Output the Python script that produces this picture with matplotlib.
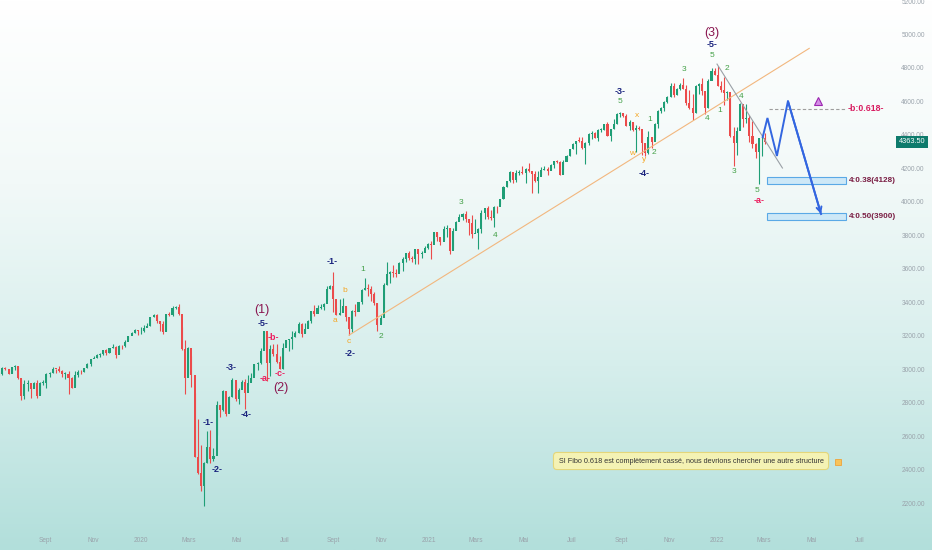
import matplotlib
matplotlib.use("Agg")
import matplotlib.pyplot as plt
import matplotlib.dates as mdates
from matplotlib import font_manager
from matplotlib.colors import LinearSegmentedColormap
from matplotlib.patches import Rectangle
import numpy as np
import pandas as pd

installed = {f.name for f in font_manager.fontManager.ttflist}
FONT = 'Liberation Sans Narrow' if 'Liberation Sans Narrow' in installed else 'Liberation Sans'
plt.rcParams['font.family'] = [FONT, 'DejaVu Sans']
NARROW = FONT == 'Liberation Sans Narrow'

# ---- S&P 500, 4-day candles from 2019-07-05 (close, high, low) ----
first_open = 2990
closes = [
    2976, 3014, 3004, 2977, 3019, 3025, 2953,
    2844, 2918, 2926, 2889, 2924, 2847, 2924, 2926,
    2979, 2980, 3007, 3006, 2992, 2977, 2977,
    2952, 2893, 2970, 2990, 2986, 3010, 3039, 3067,
    3075, 3093, 3094, 3120, 3103, 3134, 3141, 3093,
    3146, 3142, 3169, 3205, 3224, 3240, 3231,
    # 2020
    3235, 3253, 3265, 3317, 3330, 3295, 3276, 3226,
    3334, 3328, 3374, 3380, 3338, 3128, 2954,
    3130, 2972, 2481, 2386, 2305, 2447, 2541, 2470,
    2489, 2790, 2762, 2875, 2737, 2837, 2939, 2830,
    2881, 2930, 2863, 2922, 2955, 3036, 3044,
    3112, 3232, 3041, 3124, 3098, 3050, 3009, 3130,
    3179, 3185, 3197, 3224, 3276, 3216, 3246, 3295,
    3351, 3333, 3373, 3375, 3397, 3484, 3500,
    3427, 3331, 3341, 3385, 3319, 3246, 3351, 3348,
    3408, 3477, 3489, 3484, 3453, 3401, 3270, 3310,
    3509, 3572, 3585, 3582, 3577, 3638, 3662,
    3699, 3672, 3663, 3722, 3694, 3703, 3727, 3756,
    # 2021
    3748, 3824, 3795, 3768, 3841, 3850, 3714, 3830,
    3886, 3916, 3934, 3906, 3881, 3811, 3819,
    3842, 3939, 3968, 3913, 3910, 3974, 3973,
    4020, 4097, 4128, 4185, 4135, 4180, 4183, 4181,
    4201, 4189, 4174, 4128, 4156, 4196, 4204, 4192,
    4226, 4247, 4246, 4166, 4241, 4281, 4320,
    4352, 4370, 4369, 4327, 4359, 4411, 4419, 4387,
    4436, 4436, 4468, 4400, 4441, 4470, 4529, 4535,
    4520, 4458, 4480, 4433, 4448, 4443, 4357,
    4300, 4391, 4364, 4471, 4549, 4567, 4605, 4631,
    4697, 4646, 4683, 4705, 4682, 4595, 4567,
    4538, 4701, 4712, 4669, 4568, 4725, 4786, 4766,
    # 2022
    4700, 4677, 4659, 4662, 4398, 4357, 4432, 4589,
    4500, 4504, 4401, 4349, 4305, 4385, 4386, 4363.5,
]
highs = [
    2995, 3017, 3018, 3006, 3020, 3028, 3027,
    2945, 2940, 2944, 2905, 2932, 2939, 2930, 2941,
    2985, 2989, 3021, 3008, 3022, 3000, 2987,
    2993, 2959, 2993, 3003, 3000, 3013, 3044, 3068,
    3084, 3097, 3102, 3121, 3127, 3134, 3154, 3144,
    3150, 3148, 3183, 3206, 3228, 3248, 3240,
    3258, 3268, 3282, 3317, 3337, 3337, 3285, 3293,
    3337, 3347, 3385, 3381, 3393, 3259, 3182,
    3136, 3083, 2863, 2711, 2553, 2449, 2637, 2641,
    2533, 2818, 2782, 2880, 2844, 2844, 2954, 2930,
    2891, 2944, 2945, 2968, 2980, 3036, 3049,
    3130, 3233, 3223, 3153, 3155, 3154, 3086, 3165,
    3183, 3186, 3236, 3233, 3287, 3280, 3279, 3302,
    3352, 3387, 3387, 3395, 3399, 3501, 3509,
    3588, 3379, 3425, 3429, 3376, 3320, 3361, 3397,
    3409, 3482, 3550, 3515, 3502, 3466, 3399, 3330,
    3521, 3646, 3593, 3628, 3603, 3645, 3679,
    3700, 3712, 3685, 3725, 3726, 3712, 3740, 3760,
    3770, 3826, 3823, 3788, 3861, 3870, 3836, 3847,
    3894, 3931, 3938, 3950, 3902, 3928, 3906,
    3852, 3960, 3969, 3983, 3956, 3978, 3981,
    4020, 4098, 4130, 4191, 4180, 4194, 4194, 4218,
    4209, 4238, 4178, 4191, 4188, 4213, 4219, 4216,
    4233, 4249, 4258, 4252, 4256, 4286, 4321,
    4355, 4372, 4393, 4393, 4364, 4415, 4430, 4422,
    4440, 4445, 4468, 4480, 4444, 4502, 4537, 4545,
    4536, 4529, 4492, 4485, 4466, 4457, 4419,
    4355, 4429, 4392, 4475, 4552, 4572, 4608, 4636,
    4718, 4714, 4688, 4715, 4743, 4702, 4672,
    4652, 4705, 4713, 4744, 4642, 4740, 4807, 4808,
    4818, 4726, 4749, 4666, 4632, 4453, 4453, 4595,
    4540, 4590, 4527, 4490, 4356, 4385, 4402, 4416,
]
lows = [
    2966, 2970, 2998, 2975, 2980, 3000, 2945,
    2822, 2825, 2873, 2834, 2891, 2834, 2856, 2913,
    2891, 2957, 2985, 2985, 2990, 2957, 2945,
    2855, 2892, 2907, 2960, 2979, 2991, 3013, 3023,
    3070, 3071, 3077, 3090, 3091, 3104, 3134, 3070,
    3095, 3124, 3138, 3183, 3216, 3223, 3212,
    3214, 3225, 3255, 3264, 3316, 3281, 3234, 3214,
    3235, 3323, 3324, 3367, 3328, 3118, 2855,
    2976, 2901, 2478, 2380, 2280, 2191, 2446, 2444,
    2455, 2615, 2721, 2758, 2727, 2751, 2842, 2817,
    2797, 2905, 2766, 2914, 2933, 2969, 3003,
    3038, 3128, 2936, 2966, 3083, 3040, 3008, 3007,
    3155, 3116, 3127, 3196, 3224, 3200, 3221, 3250,
    3281, 3324, 3355, 3363, 3362, 3419, 3484,
    3349, 3329, 3329, 3384, 3292, 3209, 3228, 3324,
    3367, 3398, 3481, 3441, 3415, 3387, 3233, 3279,
    3370, 3511, 3519, 3556, 3554, 3594, 3594,
    3645, 3660, 3646, 3633, 3636, 3673, 3720, 3726,
    3663, 3784, 3772, 3749, 3777, 3795, 3694, 3726,
    3836, 3895, 3900, 3885, 3805, 3789, 3818,
    3723, 3821, 3906, 3904, 3900, 3853, 3939,
    3992, 4020, 4094, 4125, 4118, 4127, 4169, 4174,
    4118, 4186, 4056, 4125, 4061, 4165, 4194, 4167,
    4197, 4206, 4240, 4164, 4173, 4256, 4280,
    4322, 4290, 4362, 4321, 4233, 4347, 4379, 4385,
    4368, 4424, 4435, 4397, 4367, 4440, 4472, 4513,
    4513, 4457, 4435, 4427, 4305, 4436, 4288,
    4279, 4293, 4329, 4385, 4447, 4537, 4548, 4595,
    4630, 4630, 4646, 4672, 4680, 4585, 4560,
    4495, 4534, 4651, 4642, 4531, 4568, 4733, 4765,
    4699, 4662, 4582, 4615, 4395, 4222, 4287, 4435,
    4451, 4474, 4364, 4327, 4268, 4114, 4279, 4354,
]
dates = pd.date_range('2019-07-05', periods=len(closes), freq='4D')
opens = [first_open] + closes[:-1]

# ---- Elliott wave labels (text, date, price) ----
primary_labels = [("(1)", "2020-06-03", 3359), ("(2)", "2020-06-27", 2893),
                  ("(3)", "2021-12-25", 5015)]
navy_labels = [("-1-", "2020-03-26", 2690), ("-2-", "2020-04-06", 2409),
               ("-3-", "2020-04-25", 3013), ("-4-", "2020-05-13", 2732),
               ("-5-", "2020-06-04", 3276), ("-1-", "2020-08-31", 3652),
               ("-2-", "2020-09-23", 3102), ("-3-", "2021-08-31", 4668),
               ("-4-", "2021-09-30", 4178), ("-5-", "2021-12-26", 4949)]
pink_labels = [("-a-", "2020-06-07", 2953), ("-b-", "2020-06-17", 3198),
               ("-c-", "2020-06-26", 2977), ("-a-", "2022-02-24", 4011)]
green_labels = [("1", "2020-10-08", 3604), ("2", "2020-10-31", 3204),
                ("3", "2021-02-10", 3999), ("4", "2021-03-26", 3802),
                ("5", "2021-08-31", 4608), ("1", "2021-10-08", 4495),
                ("2", "2021-10-13", 4298), ("3", "2021-11-20", 4794),
                ("4", "2021-12-20", 4501), ("5", "2021-12-26", 4883),
                ("1", "2022-01-04", 4549), ("2", "2022-01-13", 4800),
                ("3", "2022-01-23", 4190), ("4", "2022-02-01", 4638),
                ("5", "2022-02-21", 4071)]
orange_labels = [("a", "2020-09-03", 3294), ("b", "2020-09-15", 3473),
                 ("c", "2020-09-21", 3174), ("w", "2021-09-15", 4292),
                 ("x", "2021-09-22", 4519), ("y", "2021-10-01", 4256)]

# ---- drawings ----
trend_dates = ["2020-09-21", "2022-04-28"]
trend_prices = [3209, 4923]
down_dates = ["2022-01-01", "2022-03-25"]
down_prices = [4829, 4208]
path_dates = ["2022-02-28", "2022-03-06", "2022-03-18", "2022-04-01", "2022-05-13"]
path_prices = [4393, 4507, 4280, 4608, 3933]
fib_b = 4561
zone_start, zone_end = "2022-03-06", "2022-06-14"
zones = [(4110, 4152, "4:0.38(4128)"), (3897, 3939, "4:0.50(3900)")]
last_price = 4363.50
price_ticks = list(range(2200, 5201, 200))
month_ticks = ["2019-09-01", "2019-11-01", "2020-01-01", "2020-03-01", "2020-05-01",
               "2020-07-01", "2020-09-01", "2020-11-01", "2021-01-01", "2021-03-01",
               "2021-05-01", "2021-07-01", "2021-09-01", "2021-11-01", "2022-01-01",
               "2022-03-01", "2022-05-01", "2022-07-01"]
month_names = ["Sept", "Nov", "2020", "Mars", "Mai", "Juil", "Sept", "Nov", "2021",
               "Mars", "Mai", "Juil", "Sept", "Nov", "2022", "Mars", "Mai", "Juil"]
note = "SI Fibo 0.618 est complètement cassé, nous devrions chercher une autre structure"

UP, DOWN = '#1f9e76', '#eb4b4b'
small = 5.2 if NARROW else 4.7
note_size = 6.0 if NARROW else 5.2

fig = plt.figure(figsize=(9.32, 5.5), dpi=100)
ax = fig.add_axes([0, 0, 1, 1])
ref = pd.Timestamp('2020-01-01')
pxday = 0.788
xmin = mdates.date2num(ref - pd.Timedelta(days=141 / pxday))
xmax = mdates.date2num(ref + pd.Timedelta(days=(932 - 141) / pxday))
ytop, ybot = 5212, 5200 - 548 * 5.976
ax.set_xlim(xmin, xmax)
ax.set_ylim(ybot, ytop)
ax.axis('off')

# background gradient
cmap = LinearSegmentedColormap.from_list('bg', ['#ffffff', '#f2f9f8', '#d6eeec', '#b2dfdb'])
grad = np.linspace(0, 1, 256).reshape(-1, 1)
ax.imshow(grad, cmap=cmap, aspect='auto', extent=[xmin, xmax, ybot, ytop],
          origin='upper', zorder=0)

# candles
x = mdates.date2num(dates)
o = np.array(opens, float); c = np.array(closes, float)
h = np.array(highs, float); l = np.array(lows, float)
col = np.where(c >= o, UP, DOWN)
ax.vlines(x, l, h, colors=col, lw=0.8, zorder=2)
ax.bar(x, np.maximum(np.abs(c - o), 4), bottom=np.minimum(o, c), width=2.6,
       color=col, linewidth=0, zorder=3)

# trend lines
ax.plot(mdates.datestr2num(trend_dates), trend_prices, color='#f2b77e', lw=0.8, zorder=4)
ax.plot(mdates.datestr2num(down_dates), down_prices, color='#9aa0a6', lw=0.8, zorder=4)

# expected path
px = mdates.datestr2num(path_dates)
ax.plot(px, path_prices, color='#3366e0', lw=1.4, zorder=6, solid_joinstyle='miter')
ax.annotate('', xy=(px[-1], path_prices[-1]), xytext=(px[-2], path_prices[-2]),
            arrowprops=dict(arrowstyle='->', color='#3366e0', lw=1.4,
                            mutation_scale=9, shrinkA=0, shrinkB=0), zorder=6)

# fib levels
zs, ze = mdates.datestr2num(zone_start), mdates.datestr2num(zone_end)
ax.plot([zs + 2, ze], [fib_b, fib_b], color='#9e9e9e', lw=0.8, ls=(0, (3, 2)), zorder=4)
ax.text(ze + 2, fib_b, "-b:0.618-", color='#d81b60', fontsize=6.3, fontweight='bold',
        va='center', ha='left', zorder=7)
for lo, hi, lab in zones:
    ax.add_patch(Rectangle((zs, lo), ze - zs, hi - lo, facecolor='#cde8f7',
                           edgecolor='#5aa9e6', lw=0.8, zorder=5))
    ax.text(ze + 3, (lo + hi) / 2, lab, color='#7a1e44', fontsize=5.9, fontweight='bold',
            va='center', ha='left', zorder=7)
ax.plot(mdates.datestr2num("2022-05-09"), 4608, marker='^', ms=6,
        mfc='#d48ee6', mec='#9c27b0', mew=0.8, zorder=7)

# wave labels
def put(labels, color, size, weight='normal'):
    for t, d, p in labels:
        ax.text(mdates.datestr2num(d), p, t, color=color, fontsize=size,
                fontweight=weight, ha='center', va='center', zorder=8)

put(primary_labels, '#8a1650', 9)
put(navy_labels, '#1a237e', 6.5, 'bold')
put(pink_labels, '#ec1c5d', 6.5, 'bold')
put(green_labels, '#43a047', 6)
put(orange_labels, '#f5a623', 6)

# note box
ax.text(mdates.datestr2num("2021-11-29"), 2457, note, fontsize=note_size, color='#333333',
        ha='center', va='center', zorder=9,
        bbox=dict(boxstyle='round,pad=0.7,rounding_size=0.5', fc='#f4f2b4',
                  ec='#e4d67a', lw=0.8))
ax.plot(mdates.datestr2num("2022-06-03"), 2450, marker='s', ms=5, mfc='#f8c35a',
        mec='#eea33a', mew=0.6, zorder=9)

# price scale
yt = ax.get_yaxis_transform()
for p in price_ticks:
    ax.text(913 / 932, p, f"{p:.2f}", transform=yt, fontsize=small, color='#9aa3ab',
            ha='center', va='center', zorder=8)
ax.text(912 / 932, last_price, f"{last_price:.2f}", transform=yt, fontsize=small + 0.6,
        color='white', ha='center', va='center', zorder=10,
        bbox=dict(boxstyle='square,pad=0.4', fc='#0e7b6c', ec='none'))

# time scale
xt = ax.get_xaxis_transform()
for d, name in zip(month_ticks, month_names):
    ax.text(mdates.datestr2num(d), 1 - 541 / 550, name, transform=xt, fontsize=small,
            color='#9aa3ab', ha='center', va='center', zorder=8)

fig.savefig('out.png', dpi=100)
